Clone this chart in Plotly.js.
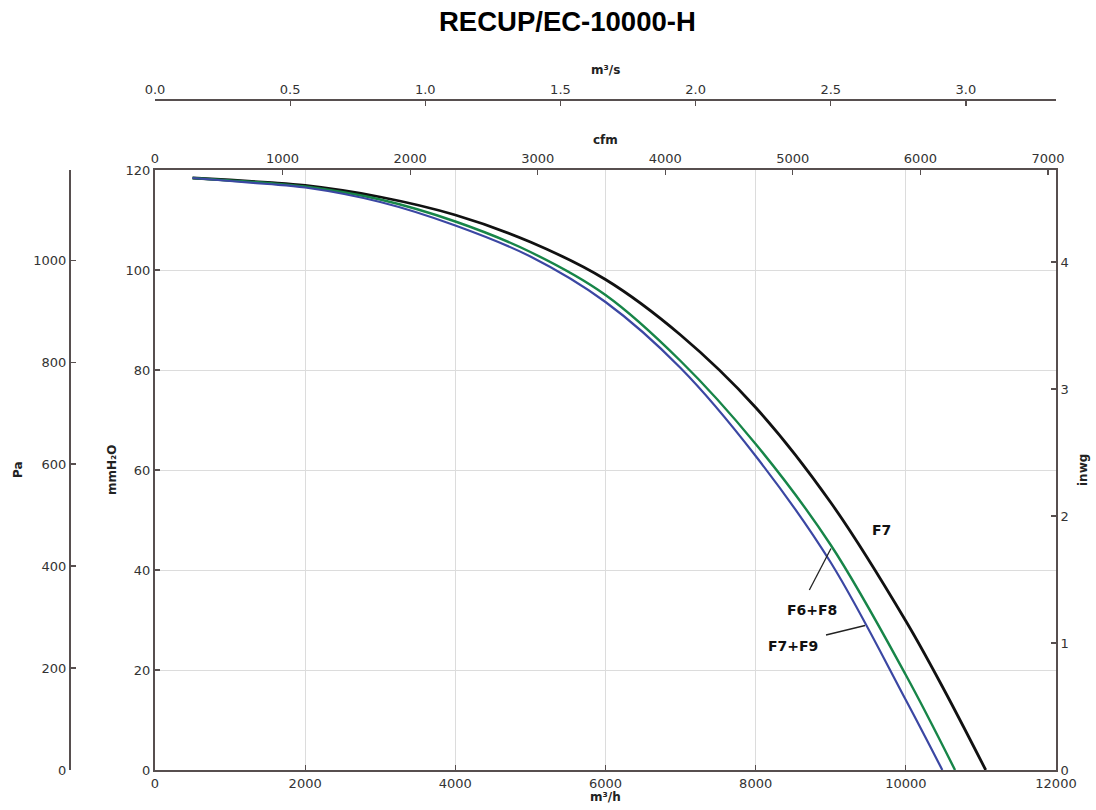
<!DOCTYPE html>
<html>
<head>
<meta charset="utf-8">
<script src="https://cdn.plot.ly/plotly-3.0.1.min.js"></script>
<style>html,body{margin:0;padding:0;background:#fff;}#chart{width:1096px;height:810px;}</style>
</head>
<body>
<div id="chart"></div>
<script>
// Airflow (m³/h) and static pressure (mmH2O)
const flowF7   = [500, 1000, 1500, 2000, 3000, 4000, 5000, 6000, 7000, 8000, 9000, 10000, 10500, 11064];
const presF7   = [118.4, 118.0, 117.5, 116.9, 114.6, 111.0, 105.6, 98.1, 87.0, 72.5, 53.5, 29.8, 16.3, 0];

const flowF6F8 = [500, 1000, 1500, 2000, 3000, 4000, 5000, 6000, 7000, 8000, 9000, 10000, 10655];
const presF6F8 = [118.4, 117.9, 117.4, 116.7, 114.1, 109.7, 103.6, 95.0, 81.8, 65.2, 45.0, 19.0, 0];

const flowF7F9 = [500, 1000, 1500, 2000, 3000, 4000, 5000, 6000, 7000, 8000, 9000, 10000, 10486];
const presF7F9 = [118.4, 117.8, 117.2, 116.5, 113.6, 108.9, 102.7, 93.6, 80.4, 62.8, 41.5, 14.0, 0];

const seriesNames  = ['F7', 'F6+F8', 'F7+F9'];
const seriesColors = ['#111111', '#178548', '#3b47a3'];

// Axis ticks
const m3hTicks  = [0, 2000, 4000, 6000, 8000, 10000, 12000];
const mmTicks   = [0, 20, 40, 60, 80, 100, 120];
const cfmTicks  = [0, 1000, 2000, 3000, 4000, 5000, 6000, 7000];
const m3sTicks  = [0.0, 0.5, 1.0, 1.5, 2.0, 2.5, 3.0];
const paTicks   = [0, 200, 400, 600, 800, 1000];
const inwgTicks = [0, 1, 2, 3, 4];

// Label annotations (m³/h, mmH2O)
const labelText = ['F7', 'F6+F8', 'F7+F9'];
const labelX    = [9680, 8745, 8500];
const labelY    = [48, 32, 24.8];
const leaderX0  = [8715, 8937];
const leaderY0  = [36, 27];
const leaderX1  = [9003, 9457];
const leaderY1  = [44.3, 28.9];

// unit conversions
const M3H_MAX = 12000, MM_MAX = 120;
const CFM_PER_M3H = 1 / 1.699011;
const M3S_PER_M3H = 1 / 3600;
const PA_PER_MM = 9.80665;
const INWG_PER_MM = 1 / 25.4;

const W = 1096, H = 810;
const L = 155, R = 1056, T = 170, B = 770;

const axisColor = '#574f4f';
const tickFont = {family: 'DejaVu Sans', size: 13, color: '#333333'};
const titleFont = {family: 'DejaVu Sans', size: 12, color: '#222222', weight: 'bold'};

const flows = [flowF7, flowF6F8, flowF7F9];
const pres = [presF7, presF6F8, presF7F9];
const widths = [2.8, 2.4, 2.2];

const traces = seriesNames.map((n, i) => ({
  type: 'scatter', mode: 'lines', name: n,
  x: flows[i], y: pres[i],
  line: {color: seriesColors[i], width: widths[i], shape: 'spline', smoothing: 1},
  xaxis: 'x', yaxis: 'y', hoverinfo: 'skip', showlegend: false
}));
// empty traces to bind the secondary axes
traces.push({type: 'scatter', x: [], y: [], xaxis: 'x2', yaxis: 'y', showlegend: false, hoverinfo: 'skip'});
traces.push({type: 'scatter', x: [], y: [], xaxis: 'x3', yaxis: 'y', showlegend: false, hoverinfo: 'skip'});
traces.push({type: 'scatter', x: [], y: [], xaxis: 'x', yaxis: 'y2', showlegend: false, hoverinfo: 'skip'});
traces.push({type: 'scatter', x: [], y: [], xaxis: 'x', yaxis: 'y3', showlegend: false, hoverinfo: 'skip'});

const baseAxis = {
  showline: true, linecolor: axisColor, linewidth: 2,
  ticks: 'inside', ticklen: 5, tickwidth: 1.2, tickcolor: axisColor,
  tickfont: tickFont, zeroline: false, fixedrange: true
};

const xDomain = [L / W, R / W];
const yDomain = [(H - B) / H, (H - T) / H];

const layout = {
  width: W, height: H,
  margin: {l: 0, r: 0, t: 0, b: 0},
  paper_bgcolor: '#ffffff', plot_bgcolor: '#ffffff',
  showlegend: false,
  xaxis: Object.assign({}, baseAxis, {
    domain: xDomain, range: [0, M3H_MAX], tickvals: m3hTicks, ticktext: m3hTicks.map(String),
    showgrid: true, gridcolor: '#dcdcdc', gridwidth: 1, anchor: 'y'
  }),
  yaxis: Object.assign({}, baseAxis, {
    domain: yDomain, range: [0, MM_MAX], tickvals: mmTicks, ticktext: mmTicks.map(String),
    showgrid: true, gridcolor: '#dcdcdc', gridwidth: 1, anchor: 'x'
  }),
  xaxis2: Object.assign({}, baseAxis, {
    overlaying: 'x', side: 'top', anchor: 'y',
    range: [0, M3H_MAX * CFM_PER_M3H], tickvals: cfmTicks, ticktext: cfmTicks.map(String),
    showgrid: false
  }),
  xaxis3: Object.assign({}, baseAxis, {
    overlaying: 'x', side: 'top', anchor: 'free', position: (H - 100) / H,
    range: [0, M3H_MAX * M3S_PER_M3H], tickvals: m3sTicks, ticktext: m3sTicks.map(v => v.toFixed(1)),
    showgrid: false
  }),
  yaxis2: Object.assign({}, baseAxis, {
    overlaying: 'y', side: 'left', anchor: 'free', position: 70 / W,
    range: [0, MM_MAX * PA_PER_MM], tickvals: paTicks, ticktext: paTicks.map(String),
    showgrid: false
  }),
  yaxis3: Object.assign({}, baseAxis, {
    overlaying: 'y', side: 'right', anchor: 'x',
    range: [0, MM_MAX * INWG_PER_MM], tickvals: inwgTicks, ticktext: inwgTicks.map(String),
    showgrid: false
  }),
  annotations: [
    {text: '<b>RECUP/EC-10000-H</b>', xref: 'paper', yref: 'paper', x: 567 / W, y: 1 - 22 / H,
     showarrow: false, xanchor: 'center', yanchor: 'middle',
     font: {family: 'Liberation Sans', size: 27.5, color: '#000000'}},
    {text: '<b>m³/s</b>', xref: 'paper', yref: 'paper', x: 605 / W, y: 1 - 70 / H, showarrow: false,
     xanchor: 'center', yanchor: 'middle', font: titleFont},
    {text: '<b>cfm</b>', xref: 'paper', yref: 'paper', x: 605 / W, y: 1 - 140 / H, showarrow: false,
     xanchor: 'center', yanchor: 'middle', font: titleFont},
    {text: '<b>m³/h</b>', xref: 'paper', yref: 'paper', x: 605 / W, y: 1 - 797 / H, showarrow: false,
     xanchor: 'center', yanchor: 'middle', font: titleFont},
    {text: '<b>Pa</b>', xref: 'paper', yref: 'paper', x: 18 / W, y: 1 - 470 / H, showarrow: false,
     textangle: -90, xanchor: 'center', yanchor: 'middle', font: titleFont},
    {text: '<b>mmH₂O</b>', xref: 'paper', yref: 'paper', x: 112 / W, y: 1 - 470 / H, showarrow: false,
     textangle: -90, xanchor: 'center', yanchor: 'middle', font: titleFont},
    {text: '<b>inwg</b>', xref: 'paper', yref: 'paper', x: 1083 / W, y: 1 - 470 / H, showarrow: false,
     textangle: -90, xanchor: 'center', yanchor: 'middle', font: titleFont}
  ].concat(labelText.map((t, i) => ({
    text: '<b>' + t + '</b>', xref: 'x', yref: 'y', x: labelX[i], y: labelY[i], showarrow: false,
    xanchor: 'center', yanchor: 'middle',
    font: {family: 'DejaVu Sans', size: 14, color: '#111111'}
  }))),
  shapes: leaderX0.map((x0, i) => ({
    type: 'line', xref: 'x', yref: 'y', x0: x0, y0: leaderY0[i], x1: leaderX1[i], y1: leaderY1[i],
    line: {color: '#222222', width: 1.3}
  }))
};

Plotly.newPlot('chart', traces, layout, {staticPlot: true, displayModeBar: false});
</script>
</body>
</html>
